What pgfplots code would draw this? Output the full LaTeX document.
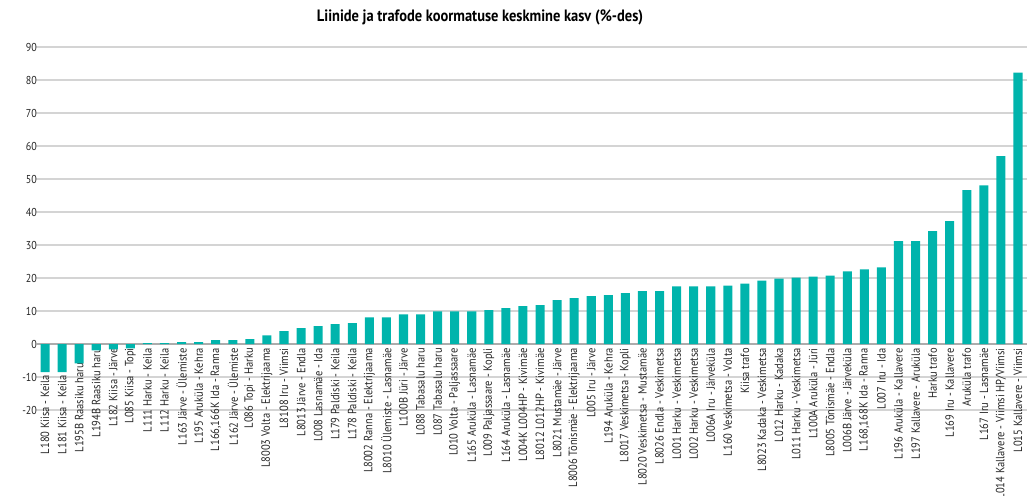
\documentclass[border=0pt]{standalone}
\usepackage{fontspec}
\setmainfont{PT Sans}[FakeStretch=0.88]
\usepackage{pgfplots}
\pgfplotsset{compat=1.18}
\definecolor{barc}{RGB}{0,180,172}
\definecolor{gridc}{RGB}{212,212,212}
\definecolor{zeroc}{RGB}{172,172,172}
\begin{document}
\begin{tikzpicture}
\begin{axis}[
  scale only axis, width=990bp, height=363bp,
  xmin=0.5, xmax=58.5, ymin=-20, ymax=90,
  ytick={-20,-10,...,90},
  axis x line=middle, axis y line=left,
  axis line style={draw=none},
  hide obscured x ticks=false, hide obscured y ticks=false,
  major tick length=0pt,
  ymajorgrids, grid style={gridc, line width=1.4bp},
  extra y ticks={0}, extra y tick labels={},
  extra y tick style={grid style={zeroc, line width=2bp}},
  xtick={1,...,58},
  xticklabels={
    {L180 Kiisa - Keila\hspace*{27bp}},
    {L181 Kiisa - Keila\hspace*{27bp}},
    {L195B Raasiku haru\hspace*{15bp}},
    {L194B Raasiku haru},
    {L182 Kiisa - Järve},
    {L085 Kiisa - Topi},
    {L111 Harku - Keila},
    {L112 Harku - Keila},
    {L163 Järve - Ülemiste},
    {L195 Aruküla - Kehra},
    {L166,166K Ida - Ranna},
    {L162 Järve - Ülemiste},
    {L086 Topi - Harku},
    {L8003 Volta - Elektrijaama},
    {L8108 Iru - Viimsi},
    {L8013 Järve - Endla},
    {L008 Lasnamäe - Ida},
    {L179 Paldiski - Keila},
    {L178 Paldiski - Keila},
    {L8002 Ranna - Elektrijaama},
    {L8010 Ülemiste - Lasnamäe},
    {L100B Jüri - Järve},
    {L088 Tabasalu haru},
    {L087 Tabasalu haru},
    {L010 Volta - Paljassaare},
    {L165 Aruküla - Lasnamäe},
    {L009 Paljassaare - Kopli},
    {L164 Aruküla - Lasnamäe},
    {L004K L004HP - Kivimäe},
    {L8012 L012HP - Kivimäe},
    {L8021 Mustamäe - Järve},
    {L8006 Tõnismäe - Elektrijaama},
    {L005 Iru - Järve},
    {L194 Aruküla - Kehra},
    {L8017 Veskimetsa - Kopli},
    {L8020 Veskimetsa - Mustamäe},
    {L8026 Endla - Veskimetsa},
    {L001 Harku - Veskimetsa},
    {L002 Harku - Veskimetsa},
    {L006A Iru - Järveküla},
    {L160 Veskimetsa - Volta},
    {Kiisa trafo},
    {L8023 Kadaka - Veskimetsa},
    {L012 Harku - Kadaka},
    {L011 Harku - Veskimetsa},
    {L100A Aruküla - Jüri},
    {L8005 Tõnismäe - Endla},
    {L006B Järve - Järveküla},
    {L168,168K Ida - Ranna},
    {L007 Iru - Ida},
    {L196 Aruküla - Kallavere},
    {L197 Kallavere - Aruküla},
    {Harku trafo},
    {L169 Iru - Kallavere},
    {Aruküla trafo},
    {L167 Iru - Lasnamäe},
    {L014 Kallavere - Viimsi HP/Viimsi},
    {L015 Kallavere - Viimsi}},
  xticklabel style={rotate=90, anchor=east, font=\fontsize{12}{13}\selectfont, text=black!85, inner xsep=4bp, inner ysep=1bp},
  yticklabel style={font=\fontsize{11.5}{13}\selectfont, text=black!85, xshift=4bp},
  /pgf/number format/assume math mode=true,
  every axis title/.style={at={(0.448,1)}, anchor=center, yshift=30bp},
  title={\bfseries\fontsize{16.5}{18}\selectfont Liinide ja trafode koormatuse keskmine kasv (\%-des)},
  clip=false,
]
\addplot[ybar, bar width=0.53, fill=barc, draw=none] coordinates {
(1,-8.5) (2,-8.5) (3,-5.9) (4,-1.9) (5,-1.6) (6,-1.3) (7,0.3) (8,0.3) (9,0.6) (10,0.6)
(11,1.2) (12,1.2) (13,1.5) (14,2.6) (15,3.9) (16,4.8) (17,5.4) (18,6.0) (19,6.3) (20,8.1)
(21,8.1) (22,9.0) (23,9.0) (24,9.9) (25,9.9) (26,9.9) (27,10.3) (28,10.9) (29,11.5) (30,11.8)
(31,13.3) (32,13.9) (33,14.5) (34,14.8) (35,15.4) (36,16.0) (37,16.0) (38,17.5) (39,17.5) (40,17.5)
(41,17.7) (42,18.3) (43,19.2) (44,19.8) (45,20.1) (46,20.4) (47,20.7) (48,22.0) (49,22.6) (50,23.2)
(51,31.2) (52,31.2) (53,34.2) (54,37.2) (55,46.6) (56,48.1) (57,56.9) (58,82.2)
};
\coordinate (ll) at (rel axis cs:0,0);
\coordinate (ur) at (rel axis cs:1,1);
\end{axis}
\pgfresetboundingbox
\path[use as bounding box] ([xshift=-36.5bp,yshift=-85bp]ll) rectangle ([xshift=0.5bp,yshift=47bp]ur);
\end{tikzpicture}
\end{document}
